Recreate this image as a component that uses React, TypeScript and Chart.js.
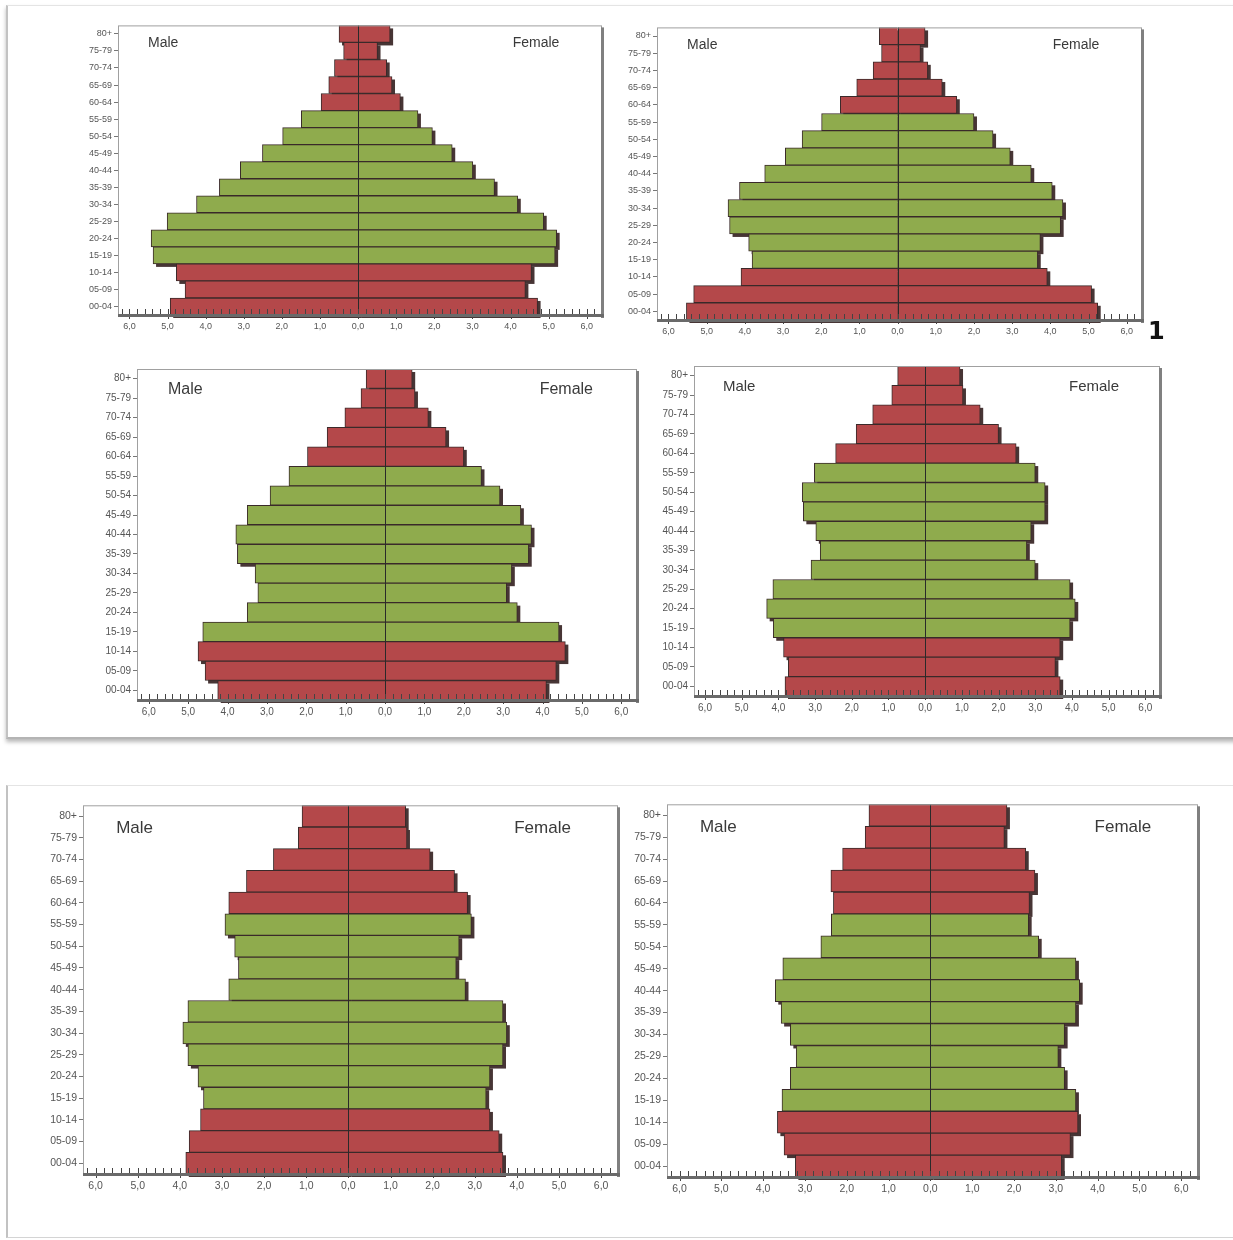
import React, { useEffect, useRef } from "react";
import { Chart, registerables } from "chart.js";

Chart.register(...registerables);

// ---------- data ----------
const ageGroups = ["80+", "75-79", "70-74", "65-69", "60-64", "55-59", "50-54", "45-49", "40-44", "35-39", "30-34", "25-29", "20-24", "15-19", "10-14", "05-09", "00-04"];
const workingAgeGroups = ["15-19", "20-24", "25-29", "30-34", "35-39", "40-44", "45-49", "50-54", "55-59"];
const xTickValues = [-6, -5, -4, -3, -2, -1, 0, 1, 2, 3, 4, 5, 6];
const sideLabels = ["Male", "Female"];

const male1 = [0.50, 0.38, 0.62, 0.77, 0.97, 1.49, 1.98, 2.51, 3.09, 3.64, 4.24, 5.01, 5.43, 5.38, 4.77, 4.54, 4.93];
const female1 = [0.84, 0.51, 0.75, 0.89, 1.11, 1.57, 1.95, 2.47, 3.01, 3.58, 4.19, 4.87, 5.21, 5.17, 4.55, 4.39, 4.71];

const male2 = [0.48, 0.42, 0.64, 1.07, 1.50, 1.99, 2.50, 2.94, 3.48, 4.14, 4.44, 4.40, 3.90, 3.81, 4.10, 5.34, 5.53];
const female2 = [0.72, 0.60, 0.79, 1.17, 1.55, 2.00, 2.50, 2.95, 3.50, 4.05, 4.33, 4.27, 3.74, 3.67, 3.92, 5.08, 5.24];

const male3 = [0.48, 0.61, 1.02, 1.47, 1.97, 2.44, 2.92, 3.50, 3.79, 3.75, 3.30, 3.23, 3.50, 4.63, 4.75, 4.57, 4.25];
const female3 = [0.69, 0.76, 1.10, 1.55, 2.00, 2.45, 2.92, 3.45, 3.72, 3.65, 3.22, 3.09, 3.36, 4.42, 4.58, 4.35, 4.10];

const male4 = [0.75, 0.91, 1.43, 1.88, 2.44, 3.02, 3.35, 3.32, 2.98, 2.86, 3.11, 4.15, 4.32, 4.14, 3.86, 3.73, 3.82];
const female4 = [0.95, 1.03, 1.50, 2.00, 2.48, 3.00, 3.27, 3.27, 2.89, 2.77, 3.00, 3.95, 4.09, 3.95, 3.68, 3.55, 3.68];

const male5 = [1.10, 1.19, 1.78, 2.42, 2.84, 2.93, 2.70, 2.61, 2.84, 3.81, 3.93, 3.81, 3.57, 3.44, 3.51, 3.78, 3.86];
const female5 = [1.36, 1.39, 1.94, 2.52, 2.83, 2.92, 2.63, 2.56, 2.78, 3.67, 3.76, 3.67, 3.36, 3.27, 3.36, 3.58, 3.67];

const male6 = [1.47, 1.56, 2.10, 2.38, 2.32, 2.37, 2.62, 3.53, 3.71, 3.57, 3.35, 3.21, 3.35, 3.55, 3.66, 3.50, 3.23];
const female6 = [1.83, 1.77, 2.28, 2.50, 2.37, 2.35, 2.59, 3.48, 3.57, 3.48, 3.21, 3.06, 3.21, 3.48, 3.53, 3.35, 3.14];

// ---------- layout / style ----------
const RED = "#b4484a";
const GREEN = "#8fab4d";
const BAR_BORDER = "#3a2a2a";
const FONT = '"Liberation Sans", Arial, sans-serif';
const X_MIN = -6.3;
const X_MAX = 6.4;
const YW = 42; // y-axis width
const PT = 6; // top padding
const PR = 7; // right padding
const XH = 24; // x-axis height

const PANELS = [
  { L: 118, R: 602, T: 24, B: 315, tickFont: 9, titleFont: 14 },
  { L: 657, R: 1142, T: 26, B: 320, tickFont: 9, titleFont: 14 },
  { L: 137, R: 637, T: 367, B: 700, tickFont: 10, titleFont: 16 },
  { L: 694, R: 1160, T: 364, B: 696, tickFont: 10, titleFont: 15 },
  { L: 83, R: 618, T: 803, B: 1174, tickFont: 10.5, titleFont: 17 },
  { L: 667, R: 1198, T: 802, B: 1177, tickFont: 10.5, titleFont: 17 },
];

const SERIES = [
  [male1, female1],
  [male2, female2],
  [male3, female3],
  [male4, female4],
  [male5, female5],
  [male6, female6],
];

function makeDecor(titleFont: number) {
  return {
    id: "pyramidDecor",
    beforeDatasetsDraw(chart: any) {
      const ctx = chart.ctx;
      ctx.save();
      ctx.fillStyle = "rgba(45,25,25,0.88)";
      chart.data.datasets.forEach((_ds: any, di: number) => {
        const meta = chart.getDatasetMeta(di);
        meta.data.forEach((bar: any) => {
          const p = bar.getProps(["x", "y", "base", "height"], true);
          const l = Math.min(p.x, p.base);
          const r = Math.max(p.x, p.base);
          ctx.fillRect(l + 3, p.y - p.height / 2 + 3, r - l, p.height);
        });
      });
      ctx.restore();
    },
    afterDatasetsDraw(chart: any) {
      const ctx = chart.ctx;
      const { top, bottom } = chart.chartArea;
      const xs = chart.scales.x;
      ctx.save();
      // centre line
      const x0 = Math.round(xs.getPixelForValue(0)) + 0.5;
      ctx.strokeStyle = "#2a2a2a";
      ctx.lineWidth = 1;
      ctx.beginPath();
      ctx.moveTo(x0, top);
      ctx.lineTo(x0, bottom);
      ctx.stroke();
      // minor ticks along the bottom axis
      ctx.strokeStyle = "#444";
      for (let i = -31; i <= 31; i++) {
        const px = Math.round(xs.getPixelForValue(i * 0.2)) + 0.5;
        const major = i % 5 === 0;
        ctx.beginPath();
        ctx.moveTo(px, bottom - 6);
        ctx.lineTo(px, bottom + (major ? 4 : 0));
        ctx.stroke();
      }
      ctx.restore();
    },
    afterDraw(chart: any) {
      const ctx = chart.ctx;
      const { left, right, top, bottom } = chart.chartArea;
      ctx.save();
      ctx.strokeStyle = "#a0a0a0";
      ctx.lineWidth = 1;
      ctx.strokeRect(left + 0.5, top + 0.5, right - left - 1, bottom - top);
      ctx.fillStyle = "#808080";
      ctx.fillRect(right - 1, top + 2, 3, bottom - top + 1);
      ctx.fillStyle = "#6a6a6a";
      ctx.fillRect(left, bottom - 1, right - left + 2, 3);
      // Male / Female captions
      ctx.fillStyle = "#3a3a3a";
      ctx.font = `${titleFont}px ${FONT}`;
      ctx.textBaseline = "middle";
      const ty = top + (bottom - top) * 0.062;
      ctx.textAlign = "left";
      ctx.fillText(sideLabels[0], left + (right - left) * 0.062, ty);
      ctx.textAlign = "right";
      ctx.fillText(sideLabels[1], right - (right - left) * 0.088, ty);
      ctx.restore();
    },
  };
}

function Pyramid({ panel, male, female }: { panel: any; male: number[]; female: number[] }) {
  const ref = useRef<HTMLCanvasElement>(null);
  const w = panel.R - panel.L + YW + PR;
  const h = panel.B - panel.T + PT + XH;
  useEffect(() => {
    const colors = ageGroups.map((g) => (workingAgeGroups.includes(g) ? GREEN : RED));
    const common = {
      backgroundColor: colors,
      borderColor: BAR_BORDER,
      borderWidth: 1,
      barPercentage: 1,
      categoryPercentage: 1,
    };
    const chart = new Chart(ref.current as HTMLCanvasElement, {
      type: "bar",
      data: {
        labels: ageGroups,
        datasets: [
          { label: sideLabels[0], data: male.map((v) => -v), ...common },
          { label: sideLabels[1], data: female, ...common },
        ],
      },
      options: {
        indexAxis: "y",
        responsive: false,
        animation: false,
        devicePixelRatio: 1,
        layout: { padding: { top: PT, right: PR, left: 0, bottom: 0 } },
        plugins: { legend: { display: false }, tooltip: { enabled: false } },
        scales: {
          x: {
            type: "linear",
            min: X_MIN,
            max: X_MAX,
            stacked: true,
            position: "bottom",
            grid: { display: false, drawTicks: false },
            border: { display: false },
            afterBuildTicks: (s: any) => {
              s.ticks = xTickValues.map((v) => ({ value: v }));
            },
            afterFit: (s: any) => {
              s.height = XH;
            },
            ticks: {
              autoSkip: false,
              maxRotation: 0,
              padding: 6,
              color: "#555",
              font: { family: FONT, size: panel.tickFont },
              callback: (v: any) => Math.abs(Number(v)).toFixed(1).replace(".", ","),
            },
          },
          y: {
            type: "category",
            stacked: true,
            position: "left",
            grid: { display: true, drawOnChartArea: false, drawTicks: true, tickLength: 4, color: "#777", offset: false },
            border: { display: false },
            afterFit: (s: any) => {
              s.width = YW;
            },
            ticks: {
              autoSkip: false,
              padding: 2,
              color: "#555",
              font: { family: FONT, size: panel.tickFont },
            },
          },
        },
      } as any,
      plugins: [makeDecor(panel.titleFont)],
    });
    return () => chart.destroy();
  }, []);
  return (
    <canvas
      ref={ref}
      width={w}
      height={h}
      style={{ position: "absolute", left: panel.L - YW, top: panel.T - PT, width: w, height: h }}
    />
  );
}

export default function App() {
  return (
    <div style={{ position: "absolute", left: 0, top: 0, width: 1233, height: 1240, background: "#fff", overflow: "hidden" }}>
      <div
        style={{
          position: "absolute",
          left: 6,
          top: 5,
          width: 1240,
          height: 731,
          borderTop: "1px solid #e4e4e4",
          borderLeft: "2px solid #c2c2c2",
          borderBottom: "2px solid #b4b4b4",
          boxShadow: "0 3px 4px rgba(0,0,0,0.28)",
          background: "#fff",
        }}
      />
      <div
        style={{
          position: "absolute",
          left: 6,
          top: 785,
          width: 1240,
          height: 451,
          borderTop: "1px solid #e4e4e4",
          borderLeft: "2px solid #c2c2c2",
          borderBottom: "1px solid #d4d4d4",
          background: "#fff",
        }}
      />
      {PANELS.map((p, i) => (
        <Pyramid key={i} panel={p} male={SERIES[i][0]} female={SERIES[i][1]} />
      ))}
      <div
        style={{
          position: "absolute",
          left: 1148,
          top: 319,
          fontFamily: '"DejaVu Sans", sans-serif',
          fontWeight: "bold",
          fontSize: 24,
          lineHeight: "24px",
          color: "#111",
        }}
      >
        1
      </div>
    </div>
  );
}
